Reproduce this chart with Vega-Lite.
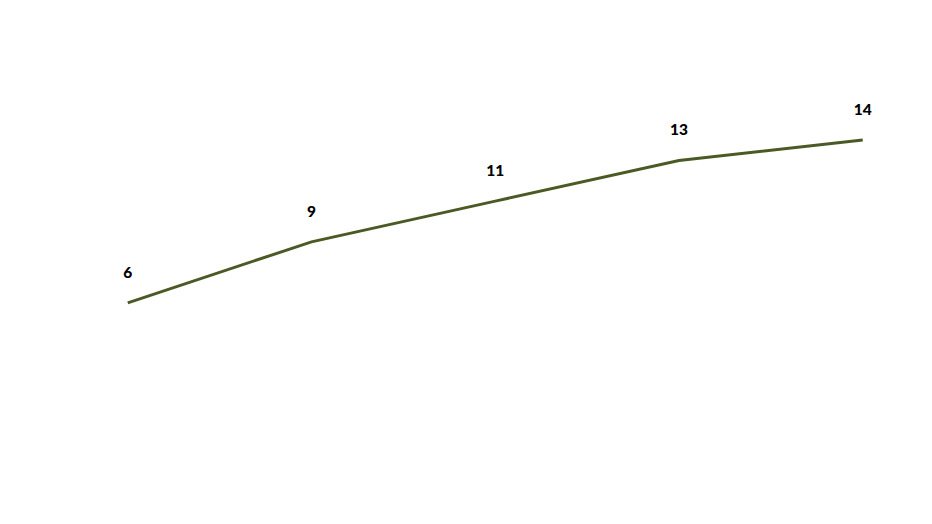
{
  "$schema": "https://vega.github.io/schema/vega-lite/v6.json",
  "autosize": "none",
  "padding": {"left": 91, "top": 18, "right": 0, "bottom": 0},
  "width": 808.5,
  "height": 407,
  "background": "white",
  "config": {"view": {"stroke": null}},
  "data": {"values": [
    {"period": "1", "value": 6},
    {"period": "2", "value": 9},
    {"period": "3", "value": 11},
    {"period": "4", "value": 13},
    {"period": "5", "value": 14}
  ]},
  "encoding": {
    "x": {"field": "period", "type": "ordinal", "scale": {"type": "point", "padding": 0.2}, "axis": null},
    "y": {"field": "value", "type": "quantitative", "scale": {"domain": [0, 20], "nice": false}, "axis": null}
  },
  "layer": [
    {"mark": {"type": "line", "color": "#4b5a25", "strokeWidth": 3}},
    {"mark": {"type": "text", "font": "Lato", "fontWeight": 900, "fontSize": 15.5, "color": "#000000", "baseline": "middle", "align": "center", "dy": -30},
     "encoding": {"text": {"field": "value", "type": "quantitative"}}}
  ]
}
